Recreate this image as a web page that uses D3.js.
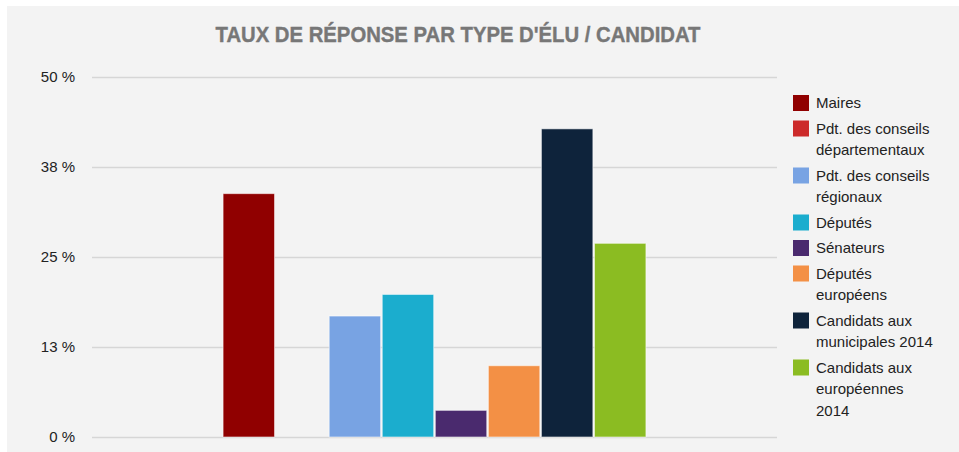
<!DOCTYPE html>
<html>
<head>
<meta charset="utf-8">
<script src="https://cdn.jsdelivr.net/npm/d3@7"></script>
<style>
  body { margin: 0; background: #fff; }
  svg { display: block; font-family: 'Liberation Sans', Arial, sans-serif; }
</style>
</head>
<body>
<script>
// data
const series = [
  'Maires',
  'Pdt. des conseils départementaux',
  'Pdt. des conseils régionaux',
  'Députés',
  'Sénateurs',
  'Députés européens',
  'Candidats aux municipales 2014',
  'Candidats aux européennes 2014',
];

// legend text broken on lines like the original
const legendLines = [
  ['Maires'],
  ['Pdt. des conseils', 'départementaux'],
  ['Pdt. des conseils', 'régionaux'],
  ['Députés'],
  ['Sénateurs'],
  ['Députés', 'européens'],
  ['Candidats aux', 'municipales 2014'],
  ['Candidats aux', 'européennes', '2014'],
];

const values = [33.8, 0, 16.8, 19.8, 3.7, 9.9, 42.8, 26.9];

const colors = [
  '#900000',
  '#cc2a2a',
  '#78a3e3',
  '#1badce',
  '#4a2a6e',
  '#f39045',
  '#0e233b',
  '#8bbc22',
];

const yTicks = [0, 12.5, 25, 37.5, 50];

const w = 959;
const h = 452;

const svg = d3.select('body').append('svg').attr('width', w).attr('height', h);

// grey panel
svg
  .append('rect')
  .attr('x', 7)
  .attr('y', 6)
  .attr('width', w - 7)
  .attr('height', h - 6)
  .attr('fill', '#f3f3f3');

svg
  .append('text')
  .attr('x', 458)
  .attr('y', 42)
  .attr('text-anchor', 'middle')
  .attr('textLength', 485)
  .attr('lengthAdjust', 'spacingAndGlyphs')
  .style('font-size', '22px')
  .style('font-weight', 'bold')
  .style('fill', '#777')
  .style('stroke', '#777')
  .style('stroke-width', 0.4)
  .text("TAUX DE RÉPONSE PAR TYPE D'ÉLU / CANDIDAT");

// scales
const yScale = d3.scaleLinear().domain([0, 50]).range([437, 77]);

const x0 = d3.scaleBand().domain(['all']).range([92, 777]).paddingOuter(0.31).paddingInner(0);

const x1 = d3
  .scaleBand()
  .domain(series)
  .range([0, x0.bandwidth()])
  .paddingInner(0.03)
  .paddingOuter(0);

// gridlines + tick labels via axis
const yAxis = d3
  .axisLeft(yScale)
  .tickValues(yTicks)
  .tickSize(-(777 - 92))
  .tickPadding(17)
  .tickFormat((d) => Math.round(d) + ' %');

const gy = svg.append('g').attr('transform', 'translate(92,0)').call(yAxis);
gy.select('.domain').remove();
gy.selectAll('.tick line').attr('stroke', '#d6d6d6').attr('stroke-width', 1.5);
gy.selectAll('.tick text')
  .style('font-size', '15px')
  .style('font-family', "'Liberation Sans', Arial, sans-serif")
  .attr('fill', '#222');

// bars
const g = svg.append('g').attr('transform', `translate(${x0('all')},0)`);
g.selectAll('rect')
  .data(series.map((s, i) => ({ s, v: values[i], c: colors[i] })))
  .enter()
  .append('rect')
  .attr('x', (d) => x1(d.s))
  .attr('y', (d) => yScale(d.v))
  .attr('width', x1.bandwidth())
  .attr('height', (d) => yScale(0) - yScale(d.v))
  .attr('fill', (d) => d.c)
  .attr('stroke', 'rgba(255,255,255,0.55)')
  .attr('stroke-width', 1)
  .style('display', (d) => (d.v > 0 ? null : 'none'));

// legend
const legend = svg.append('g').attr('transform', 'translate(793,0)');
let ly = 103;
legendLines.forEach((lines, i) => {
  const item = legend.append('g');
  item
    .append('rect')
    .attr('x', 0)
    .attr('y', ly - 8)
    .attr('width', 16)
    .attr('height', 16)
    .attr('fill', colors[i]);
  lines.forEach((t, j) => {
    item
      .append('text')
      .attr('x', 23)
      .attr('y', ly + j * 21.5)
      .attr('dy', '0.35em')
      .style('font-size', '15px')
      .style('fill', '#222')
      .text(t);
  });
  ly += 25.5 + (lines.length - 1) * 21.5;
});
</script>
</body>
</html>
